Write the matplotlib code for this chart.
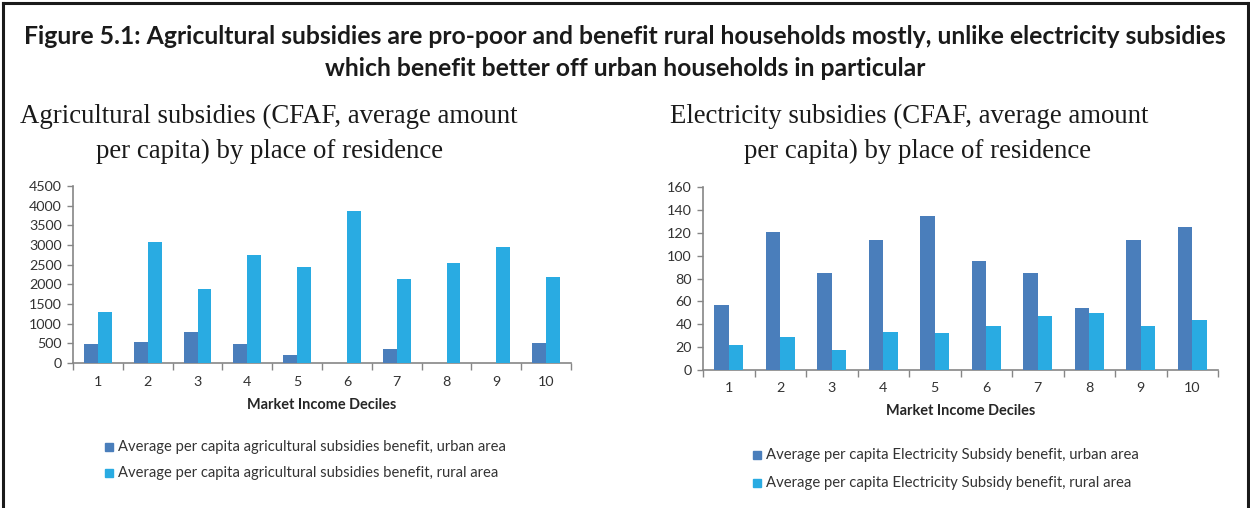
import matplotlib
matplotlib.use("Agg")
import matplotlib.pyplot as plt
from matplotlib.lines import Line2D
import numpy as np

deciles = ["1", "2", "3", "4", "5", "6", "7", "8", "9", "10"]
agri_urban = [482, 541, 790, 474, 203, 0, 347, 0, 0, 508]
agri_rural = [1286, 3080, 1878, 2758, 2437, 3875, 2132, 2530, 2944, 2174]
elec_urban = [56.4, 120.7, 85.2, 114, 134.7, 95.7, 84.9, 54.4, 114, 125.1]
elec_rural = [21.5, 28.5, 17.2, 33.2, 32.6, 38.7, 47.4, 49.5, 38.4, 43.9]

main_title = ["Figure 5.1: Agricultural subsidies are pro-poor and benefit rural households mostly, unlike electricity subsidies",
              "which benefit better off urban households in particular"]
left_title = ["Agricultural subsidies (CFAF, average amount", "per capita) by place of residence"]
right_title = ["Electricity subsidies (CFAF, average amount", "per capita) by place of residence"]
left_legend = ["Average per capita agricultural subsidies benefit, urban area",
               "Average per capita agricultural subsidies benefit, rural area"]
right_legend = ["Average per capita Electricity Subsidy benefit, urban area",
                "Average per capita Electricity Subsidy benefit, rural area"]
xlabel = "Market Income Deciles"

C_URBAN = "#4a7ebb"
C_RURAL = "#29abe2"
SANS = ["Lato", "DejaVu Sans"]
SERIF = ["Liberation Serif", "DejaVu Serif"]
W, H = 1250, 508

fig = plt.figure(figsize=(W / 100, H / 100), dpi=100)
fig.patch.set_facecolor("white")

def fx(x):
    return x / W

def fy(y):
    return 1 - y / H

renderer = fig.canvas.get_renderer()

def fit(t, target_w):
    bb = t.get_window_extent(renderer=renderer)
    t.set_fontsize(t.get_fontsize() * target_w / bb.width)

# Border
for (x0, y0, x1, y1) in [(2.5, 2.5, 1247.5, 2.5), (2.5, 2.5, 2.5, 508), (1247.5, 2.5, 1247.5, 508)]:
    fig.add_artist(Line2D([fx(x0), fx(x1)], [fy(y0), fy(y1)], color="#1a1a1a", lw=2.2,
                          transform=fig.transFigure))

# Main title
t1 = fig.text(fx(625), fy(37), main_title[0], ha="center", va="center",
              fontfamily=SANS, fontweight="bold", fontsize=14, color="#1a1a1a")
fit(t1, 1212)
t2 = fig.text(fx(625), fy(68), main_title[1], ha="center", va="center",
              fontfamily=SANS, fontweight="bold", fontsize=t1.get_fontsize(), color="#1a1a1a")

# Subtitles
s1 = fig.text(fx(20), fy(116), left_title[0], ha="left", va="center",
              fontfamily=SERIF, fontsize=16, color="#1a1a1a")
fit(s1, 497)
fig.text(fx(270), fy(151), left_title[1], ha="center", va="center",
         fontfamily=SERIF, fontsize=s1.get_fontsize(), color="#1a1a1a")
s3 = fig.text(fx(670), fy(116), right_title[0], ha="left", va="center",
              fontfamily=SERIF, fontsize=s1.get_fontsize(), color="#1a1a1a")
fig.text(fx(917), fy(151), right_title[1], ha="center", va="center",
         fontfamily=SERIF, fontsize=s1.get_fontsize(), color="#1a1a1a")

def make_axes(x0, x1, ytop, ybot, urban, rural, ymax, ystep, xlab_y, legend_labels,
              leg_x, leg_y0, leg_dy, leg_w):
    ax = fig.add_axes([fx(x0), fy(ybot), fx(x1 - x0), (ybot - ytop) / H])
    x = np.arange(len(deciles))
    bw = 0.28
    ax.bar(x - bw / 2, urban, bw, color=C_URBAN, edgecolor="none", zorder=3)
    ax.bar(x + bw / 2, rural, bw, color=C_RURAL, edgecolor="none", zorder=3)
    ax.set_xlim(-0.5, len(deciles) - 0.5)
    ax.set_ylim(0, ymax)
    ax.set_yticks(np.arange(0, ymax + 1e-9, ystep))
    ax.set_xticks(x)
    ax.set_xticklabels(deciles)
    ax.set_xticks(np.arange(-0.5, len(deciles), 1.0), minor=True)
    ax.tick_params(axis="x", which="major", length=0, pad=9, labelsize=10.3, labelcolor="#333333")
    ax.tick_params(axis="x", which="minor", length=5, width=1, color="#868686", direction="out")
    ax.tick_params(axis="y", length=4, width=1, color="#868686", pad=4, labelsize=10.3, labelcolor="#333333")
    for lab in ax.get_xticklabels() + ax.get_yticklabels():
        lab.set_fontfamily(SANS)
    for s in ["top", "right"]:
        ax.spines[s].set_visible(False)
    for s in ["left", "bottom"]:
        ax.spines[s].set_color("#868686")
        ax.spines[s].set_linewidth(1.2)
    xl = fig.text(fx((x0 + x1) / 2), fy(xlab_y), xlabel, ha="center", va="center",
                  fontfamily=SANS, fontweight="bold", fontsize=10, color="#262626")
    fit(xl, 150)
    fsz = None
    for i, (lab, col) in enumerate(zip(legend_labels, [C_URBAN, C_RURAL])):
        yy = leg_y0 + i * leg_dy
        fig.add_artist(plt.Rectangle((fx(leg_x), fy(yy + 4)), 8 / W, 8 / H, color=col,
                                     transform=fig.transFigure))
        tt = fig.text(fx(leg_x + 13), fy(yy), lab, ha="left", va="center",
                      fontfamily=SANS, fontsize=10, color="#333333")
        if fsz is None:
            fit(tt, leg_w)
            fsz = tt.get_fontsize()
        else:
            tt.set_fontsize(fsz)
    return ax

make_axes(73, 571, 186, 363, agri_urban, agri_rural, 4500, 500, 405,
          left_legend, 105, 447, 26, 387)
make_axes(703, 1218, 187, 370, elec_urban, elec_rural, 160, 20, 411,
          right_legend, 753, 455, 28, 374)

fig.savefig("out.png", dpi=100, facecolor="white")
